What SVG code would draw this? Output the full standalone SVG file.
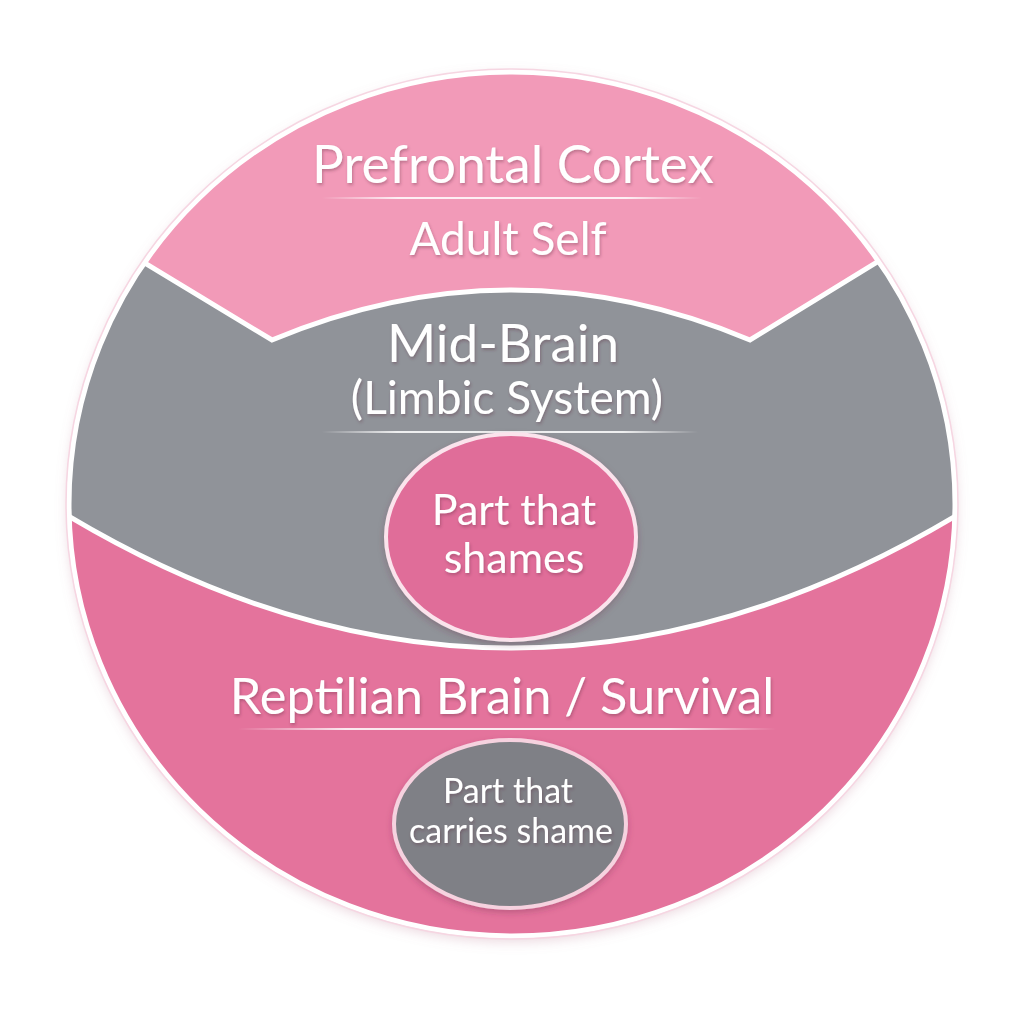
<svg xmlns="http://www.w3.org/2000/svg" width="1024" height="1024" viewBox="0 0 1024 1024">
  <defs>
    <style>
      .lbl { font-family: "Lato", "Noto Sans", "Liberation Sans", sans-serif; fill: #ffffff; text-anchor: middle; filter: url(#ts); }
      .sep { fill: url(#lineGrad); }
      .bound { stroke: #ffffff; stroke-width: 5; fill: none; stroke-linejoin: miter; }
    </style>
    <linearGradient id="lineGrad" x1="0" x2="1" y1="0" y2="0">
      <stop offset="0" stop-color="#ffffff" stop-opacity="0"/>
      <stop offset="0.2" stop-color="#ffffff" stop-opacity="0.85"/>
      <stop offset="0.8" stop-color="#ffffff" stop-opacity="0.85"/>
      <stop offset="1" stop-color="#ffffff" stop-opacity="0"/>
    </linearGradient>
    <filter id="ts" x="-10%" y="-30%" width="120%" height="160%">
      <feDropShadow dx="1" dy="2" stdDeviation="1.5" flood-color="#5a2a3a" flood-opacity="0.35"/>
    </filter>
    <filter id="outer" x="-10%" y="-10%" width="120%" height="120%">
      <feDropShadow dx="0" dy="4" stdDeviation="6" flood-color="#c08098" flood-opacity="0.3"/>
    </filter>
    <filter id="es" x="-15%" y="-15%" width="130%" height="130%">
      <feDropShadow dx="0" dy="3" stdDeviation="3" flood-color="#6a3048" flood-opacity="0.3"/>
    </filter>
    <clipPath id="circ">
      <ellipse cx="512" cy="504" rx="443" ry="432"/>
    </clipPath>
  </defs>

  <rect width="1024" height="1024" fill="#ffffff"/>

  <ellipse cx="512" cy="504" rx="445" ry="434" fill="#fbe6ee" filter="url(#outer)"/>

  <g id="regions" clip-path="url(#circ)">
    <g id="reptilian-region">
      <rect x="60" y="60" width="910" height="900" fill="#e4739c"/>
    </g>
    <g id="midbrain-region">
      <path d="M 60 511 Q 512 785 964 511 L 964 240 L 60 240 Z" fill="#909399"/>
    </g>
    <g id="prefrontal-region">
      <path d="M 120 248 L 272 340 Q 512 240 750 340 L 900 248 L 900 40 L 120 40 Z" fill="#f29ab8"/>
    </g>
  </g>

  <g id="connectors">
    <path class="bound" d="M 120 248 L 272 340 Q 512 240 750 340 L 900 248" clip-path="url(#circ)"/>
    <path class="bound" d="M 60 511 Q 512 785 964 511" clip-path="url(#circ)"/>
  </g>

  <ellipse cx="512" cy="504" rx="443" ry="432" fill="none" stroke="#ffffff" stroke-width="5"/>
  <ellipse cx="512" cy="504" rx="446" ry="435" fill="none" stroke="#f6d6e2" stroke-width="1.5"/>

  <g id="prefrontal">
    <text class="lbl" font-size="53" x="513" y="183">Prefrontal Cortex</text>
    <rect class="sep" x="322" y="197" width="380" height="2"/>
    <text class="lbl" font-size="46" x="508" y="255">Adult Self</text>
  </g>

  <g id="midbrain">
    <text class="lbl" font-size="53" x="503" y="362">Mid-Brain</text>
    <text class="lbl" font-size="46" x="507" y="414">(Limbic System)</text>
    <rect class="sep" x="322" y="431" width="376" height="2"/>
  </g>

  <g id="part-that-shames">
    <ellipse cx="511" cy="537" rx="125" ry="103" fill="#e06d99" stroke="#fbe3ec" stroke-width="4" filter="url(#es)"/>
    <text class="lbl" font-size="43" x="514" y="525">Part that</text>
    <text class="lbl" font-size="43" x="514" y="573">shames</text>
  </g>

  <g id="reptilian">
    <text class="lbl" font-size="50.5" x="502" y="714">Reptilian Brain / Survival</text>
    <rect class="sep" x="238" y="728" width="538" height="2"/>
  </g>

  <g id="part-that-carries-shame">
    <ellipse cx="510" cy="824" rx="116" ry="84" fill="#7f8086" stroke="#f6d2df" stroke-width="4" filter="url(#es)"/>
    <text class="lbl" font-size="34" x="508" y="803">Part that</text>
    <text class="lbl" font-size="34" x="511" y="843">carries shame</text>
  </g>
</svg>
